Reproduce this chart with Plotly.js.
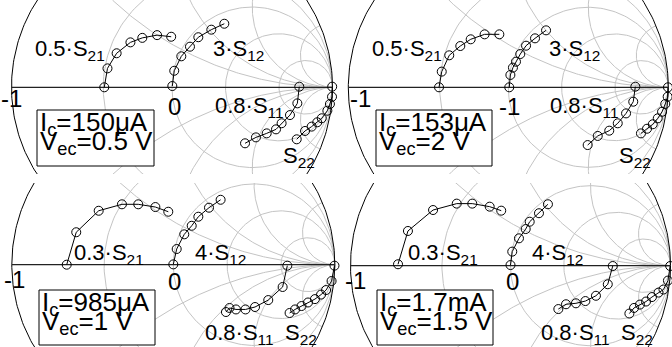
<!DOCTYPE html>
<html><head><meta charset="utf-8">
<script src="https://cdn.plot.ly/plotly-3.0.1.min.js"></script>
<style>html,body{margin:0;padding:0;background:#fff}#chart{width:672px;height:347px}</style>
</head><body><div id="chart"></div>
<script>
// ===== DATA (scaled S-parameters, real / imaginary part) =====
// Panel 1: Ic=150uA, Vec=0.5 V
const p1_s21_re = [-0.422,-0.402,-0.345,-0.259,-0.185,-0.093,-0.005];
const p1_s21_im = [0.000,0.118,0.212,0.280,0.308,0.325,0.315];
const p1_s12_re = [0.002,0.014,0.058,0.112,0.164,0.245,0.326];
const p1_s12_im = [0.008,0.103,0.193,0.253,0.312,0.359,0.396];
const p1_s11_re = [0.793,0.781,0.735,0.683,0.648,0.590,0.523,0.455];
const p1_s11_im = [0.004,-0.100,-0.173,-0.224,-0.262,-0.287,-0.312,-0.349];
const p1_s22_re = [0.998,0.997,0.984,0.968,0.933,0.905,0.870,0.829,0.777];
const p1_s22_im = [0.004,-0.059,-0.104,-0.146,-0.193,-0.218,-0.245,-0.272,-0.324];
// Panel 2: Ic=153uA, Vec=2 V
const p2_s21_re = [-0.433,-0.416,-0.369,-0.300,-0.235,-0.148,-0.056];
const p2_s21_im = [0.000,0.098,0.200,0.258,0.300,0.331,0.331];
const p2_s12_re = [0.006,0.013,0.029,0.048,0.075,0.111,0.167,0.236];
const p2_s12_im = [0.000,0.077,0.123,0.160,0.208,0.260,0.306,0.356];
const p2_s11_re = [0.794,0.781,0.736,0.684,0.631,0.559,0.496];
const p2_s11_im = [0.004,-0.090,-0.163,-0.225,-0.271,-0.304,-0.361];
const p2_s22_re = [0.998,0.996,0.981,0.961,0.934,0.903,0.867,0.829];
const p2_s22_im = [0.000,-0.059,-0.104,-0.153,-0.194,-0.231,-0.259,-0.288];
// Panel 3: Ic=985uA, Vec=1 V
const p3_s21_re = [-0.660,-0.601,-0.462,-0.318,-0.217,-0.111,-0.031];
const p3_s21_im = [0.000,0.201,0.334,0.374,0.374,0.357,0.328];
const p3_s12_re = [0.000,0.021,0.068,0.114,0.155,0.221,0.293];
const p3_s12_im = [0.002,0.097,0.188,0.241,0.297,0.353,0.402];
const p3_s11_re = [0.706,0.677,0.588,0.506,0.447,0.388,0.348,0.326];
const p3_s11_im = [-0.006,-0.138,-0.219,-0.262,-0.277,-0.277,-0.268,-0.293];
const p3_s22_re = [0.998,0.980,0.946,0.915,0.877,0.834,0.794,0.754,0.720];
const p3_s22_im = [-0.006,-0.101,-0.157,-0.185,-0.213,-0.234,-0.256,-0.277,-0.299];
// Panel 4: Ic=1.7mA, Vec=1.5 V
const p4_s21_re = [-0.703,-0.641,-0.484,-0.336,-0.239,-0.130,-0.058];
const p4_s21_im = [0.009,0.217,0.348,0.388,0.388,0.369,0.344];
const p4_s12_re = [0.000,0.011,0.053,0.095,0.120,0.178,0.234];
const p4_s12_im = [0.004,0.088,0.171,0.229,0.275,0.328,0.384];
const p4_s11_re = [0.639,0.608,0.534,0.468,0.409,0.347,0.299];
const p4_s11_im = [-0.002,-0.116,-0.188,-0.221,-0.235,-0.241,-0.271];
const p4_s22_re = [0.998,0.984,0.956,0.925,0.884,0.847,0.809,0.772,0.743];
const p4_s22_im = [-0.002,-0.093,-0.149,-0.168,-0.196,-0.224,-0.243,-0.264,-0.299];

// Text
const p1_labels = ['0.5·S<sub>21</sub>','3·S<sub>12</sub>','0.8·S<sub>11</sub>','S<sub>22</sub>'];
const p2_labels = ['0.5·S<sub>21</sub>','3·S<sub>12</sub>','0.8·S<sub>11</sub>','S<sub>22</sub>'];
const p3_labels = ['0.3·S<sub>21</sub>','4·S<sub>12</sub>','0.8·S<sub>11</sub>','S<sub>22</sub>'];
const p4_labels = ['0.3·S<sub>21</sub>','4·S<sub>12</sub>','0.8·S<sub>11</sub>','S<sub>22</sub>'];
const p1_ticks = ['-1','0'];
const p2_ticks = ['-1','-1'];
const p3_ticks = ['-1','0'];
const p4_ticks = ['-1','0'];
const p1_bias = ['I<sub>c</sub>=150μA','V<sub>ec</sub>=0.5 V'];
const p2_bias = ['I<sub>c</sub>=153μA','V<sub>ec</sub>=2 V'];
const p3_bias = ['I<sub>c</sub>=985μA','V<sub>ec</sub>=1 V'];
const p4_bias = ['I<sub>c</sub>=1.7mA','V<sub>ec</sub>=1.5 V'];
// Smith grid values
const gridR = [0.4, 1, 2, 5];
const gridX = [0.5, 1, 2, 5];

// ===== LAYOUT GEOMETRY (pixels) =====
const W = 672, H = 347;
const FONT = 'Liberation Sans, Arial, sans-serif';
const panels = [
  {cx:172,   cy:87.3,  R:160.5, x0:0,   x1:336, y0:0,   y1:174,
   data:[[p1_s21_re,p1_s21_im],[p1_s12_re,p1_s12_im],[p1_s11_re,p1_s11_im],[p1_s22_re,p1_s22_im]],
   labels:p1_labels, labelPos:[[70,50],[238,50],[249,107],[299,157]],
   ticks:p1_ticks, tickPos:[[11.5,98.5],[174.5,106]],
   bias:p1_bias, box:[37,110,154,166]},
  {cx:508.3, cy:87.3,  R:160,   x0:336, x1:672, y0:0,   y1:174,
   data:[[p2_s21_re,p2_s21_im],[p2_s12_re,p2_s12_im],[p2_s11_re,p2_s11_im],[p2_s22_re,p2_s22_im]],
   labels:p2_labels, labelPos:[[407,50],[574,50],[584.5,107],[635,157]],
   ticks:p2_ticks, tickPos:[[360,98.5],[509.5,106]],
   bias:p2_bias, box:[376,110,492,166]},
  {cx:173.3, cy:264.7, R:161.5, x0:0,   x1:336, y0:183, y1:347,
   data:[[p3_s21_re,p3_s21_im],[p3_s12_re,p3_s12_im],[p3_s11_re,p3_s11_im],[p3_s22_re,p3_s22_im]],
   labels:p3_labels, labelPos:[[109,254],[220,254],[239,333.5],[301,333.5]],
   ticks:p3_ticks, tickPos:[[14,279.5],[174,281]],
   bias:p3_bias, box:[39,290,155,345]},
  {cx:510.5, cy:265.7, R:160,   x0:336, x1:672, y0:183, y1:347,
   data:[[p4_s21_re,p4_s21_im],[p4_s12_re,p4_s12_im],[p4_s11_re,p4_s11_im],[p4_s22_re,p4_s22_im]],
   labels:p4_labels, labelPos:[[442.7,254],[557,254],[575,333.5],[637,333.5]],
   ticks:p4_ticks, tickPos:[[355,280],[512,281]],
   bias:p4_bias, box:[377,290,493,345]}
];

function smithGrid(){
  const xs=[], ys=[];
  gridR.forEach(r=>{
    const c=r/(1+r), rad=1/(1+r);
    for(let i=0;i<=200;i++){const t=2*Math.PI*i/200; xs.push(c+rad*Math.cos(t)); ys.push(rad*Math.sin(t));}
    xs.push(null); ys.push(null);
  });
  gridX.forEach(x=>{
    [1,-1].forEach(s=>{
      const rad=1/x, gx=(x*x-1)/(1+x*x), gy=2*x/(1+x*x);
      let aEnd=Math.atan2(gy-rad, gx-1);
      if(aEnd>-Math.PI/2) aEnd-=2*Math.PI;
      const a0=-Math.PI/2;
      for(let i=0;i<=150;i++){const a=a0+(aEnd-a0)*i/150; xs.push(1+rad*Math.cos(a)); ys.push(s*(rad+rad*Math.sin(a)));}
      xs.push(null); ys.push(null);
    });
  });
  return {xs, ys};
}
function unitCircle(){
  const xs=[],ys=[];
  for(let i=0;i<=360;i++){const t=2*Math.PI*i/360; xs.push(Math.cos(t)); ys.push(Math.sin(t));}
  return {xs,ys};
}

const traces=[], annotations=[], shapes=[];
const layout = {width:W, height:H, margin:{l:0,r:0,t:0,b:0}, showlegend:false,
  paper_bgcolor:'#fff', plot_bgcolor:'rgba(0,0,0,0)', annotations, shapes};
const G = smithGrid(), U = unitCircle();
const px = v=>v/W, py = v=>1-v/H;

panels.forEach((p,i)=>{
  const sfx = i? String(i+1):'';
  const xa='x'+sfx, ya='y'+sfx;
  layout['xaxis'+sfx]={domain:[p.x0/W,p.x1/W], range:[(p.x0-p.cx)/p.R,(p.x1-p.cx)/p.R], visible:false, fixedrange:true, anchor:ya};
  layout['yaxis'+sfx]={domain:[1-p.y1/H,1-p.y0/H], range:[(p.cy-p.y1)/p.R,(p.cy-p.y0)/p.R], visible:false, fixedrange:true, anchor:xa};
  traces.push({type:'scatter',mode:'lines',x:G.xs,y:G.ys,xaxis:xa,yaxis:ya,line:{color:'#c4c4c4',width:1},hoverinfo:'skip',connectgaps:false});
  traces.push({type:'scatter',mode:'lines',x:U.xs,y:U.ys,xaxis:xa,yaxis:ya,line:{color:'#000',width:1},hoverinfo:'skip'});
  traces.push({type:'scatter',mode:'lines',x:[-1,1],y:[0,0],xaxis:xa,yaxis:ya,line:{color:'#222',width:1.3},hoverinfo:'skip'});
  p.data.forEach(d=>{
    traces.push({type:'scatter',mode:'lines+markers',x:d[0],y:d[1],xaxis:xa,yaxis:ya,cliponaxis:false,
      line:{color:'#000',width:1},marker:{symbol:'circle-open',size:9,color:'#000',line:{width:1,color:'#000'}}});
  });
  p.labels.forEach((t,k)=>annotations.push({text:t,x:px(p.labelPos[k][0]),y:py(p.labelPos[k][1]),xref:'paper',yref:'paper',
    showarrow:false,xanchor:'center',yanchor:'middle',font:{family:FONT,size:22,color:'#000'}}));
  p.ticks.forEach((t,k)=>annotations.push({text:t,x:px(p.tickPos[k][0]),y:py(p.tickPos[k][1]),xref:'paper',yref:'paper',
    showarrow:false,xanchor:'center',yanchor:'middle',font:{family:FONT,size:24,color:'#000'}}));
  const b=p.box;
  shapes.push({type:'rect',xref:'paper',yref:'paper',x0:px(b[0]),x1:px(b[2]),y0:py(b[3]),y1:py(b[1]),
    line:{color:'#000',width:1},fillcolor:'#fff',layer:'above'});
  annotations.push({text:p.bias[0],x:px(b[0]+1),y:py(b[1]+13.3),xref:'paper',yref:'paper',showarrow:false,
    xanchor:'left',yanchor:'middle',font:{family:FONT,size:26,color:'#000'}});
  annotations.push({text:p.bias[1],x:px(b[0]+1),y:py(b[1]+32.8),xref:'paper',yref:'paper',showarrow:false,
    xanchor:'left',yanchor:'middle',font:{family:FONT,size:26,color:'#000'}});
});

Plotly.newPlot('chart', traces, layout, {staticPlot:true, displayModeBar:false});
</script></body></html>
